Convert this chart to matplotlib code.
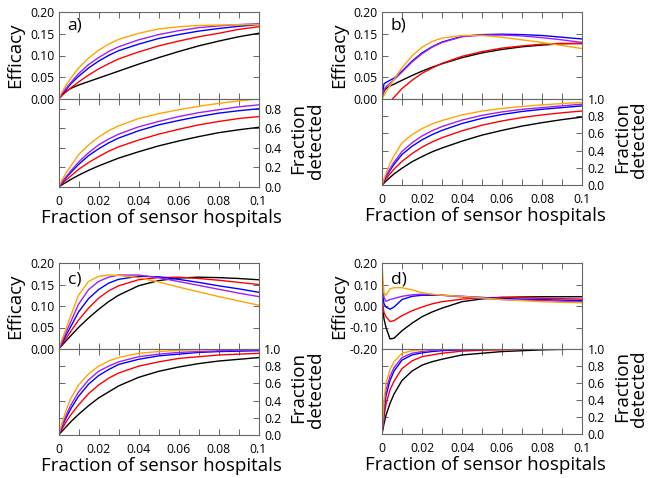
import matplotlib
matplotlib.use("Agg")
import matplotlib.pyplot as plt
import numpy as np

plt.rcParams["font.family"] = ["Open Sans", "DejaVu Sans"]

# ---------------- data ----------------
X = [0, 0.001, 0.002, 0.004, 0.006, 0.01, 0.015, 0.02, 0.025, 0.03,
     0.04, 0.05, 0.06, 0.07, 0.08, 0.09, 0.1]
x_ticks = [0, 0.01, 0.02, 0.03, 0.04, 0.05, 0.06, 0.07, 0.08, 0.09, 0.1]
x_tick_labels = ["0", "", "0.02", "", "0.04", "", "0.06", "", "0.08", "", "0.1"]

series_names = ["black", "red", "blue", "purple", "orange"]
series_colors = ["#000000", "#ff0000", "#0000ff", "#a020f0", "#ffa500"]

# panel a) efficacy
eff_a_black = [0, .006, .011, .018, .024, .032, .040, .048, .056, .064, .080, .095, .109, .122, .133, .143, .151]
eff_a_red = [0, .004, .009, .017, .025, .039, .055, .069, .081, .092, .108, .122, .133, .143, .151, .160, .166]
eff_a_blue = [0, .006, .012, .023, .034, .052, .071, .087, .100, .111, .126, .139, .148, .156, .162, .167, .171]
eff_a_purple = [0, .007, .014, .026, .037, .058, .079, .095, .109, .120, .136, .148, .157, .164, .168, .171, .173]
eff_a_orange = [0, .009, .018, .033, .047, .071, .094, .112, .126, .137, .151, .161, .166, .169, .170, .171, .171]
# panel a) fraction detected
det_a_black = [0, .013, .026, .05, .075, .12, .17, .215, .255, .295, .36, .42, .47, .515, .555, .585, .61]
det_a_red = [0, .02, .04, .075, .11, .18, .25, .31, .365, .41, .48, .54, .59, .635, .67, .70, .72]
det_a_blue = [0, .027, .052, .10, .145, .23, .32, .39, .45, .50, .575, .635, .68, .72, .755, .78, .80]
det_a_purple = [0, .03, .06, .11, .16, .255, .35, .43, .49, .54, .615, .67, .72, .76, .79, .82, .84]
det_a_orange = [0, .04, .08, .15, .21, .33, .43, .51, .575, .625, .70, .75, .79, .825, .855, .88, .90]

# panel b) efficacy
eff_b_black = [0, .018, .024, .030, .034, .043, .054, .064, .073, .081, .095, .106, .114, .120, .124, .127, .128]
eff_b_red = [-.025, -.02, -.015, -.006, .004, .024, .043, .059, .071, .082, .098, .109, .117, .122, .126, .128, .127]
eff_b_blue = [0, .035, .038, .043, .048, .064, .087, .106, .120, .131, .144, .148, .149, .148, .146, .142, .138]
eff_b_purple = [0, .020, .028, .036, .044, .062, .085, .104, .119, .130, .143, .147, .147, .145, .141, .136, .130]
eff_b_orange = [0, .008, .016, .031, .045, .072, .099, .119, .132, .140, .146, .146, .142, .136, .130, .123, .116]
# panel b) fraction detected
det_b_black = [0, .022, .045, .088, .128, .195, .27, .33, .385, .43, .51, .58, .635, .685, .725, .76, .79]
det_b_red = [0, .035, .07, .13, .185, .275, .365, .44, .50, .55, .63, .695, .745, .785, .815, .84, .86]
det_b_blue = [0, .048, .095, .17, .24, .355, .45, .525, .585, .635, .715, .775, .82, .855, .88, .90, .92]
det_b_purple = [0, .055, .105, .19, .265, .39, .49, .57, .63, .68, .755, .81, .85, .88, .90, .92, .94]
det_b_orange = [0, .07, .135, .25, .34, .49, .585, .655, .71, .75, .815, .86, .89, .913, .932, .947, .96]

# panel c) efficacy
eff_c_black = [0, .005, .010, .020, .030, .050, .072, .092, .110, .125, .147, .159, .165, .167, .166, .164, .161]
eff_c_red = [0, .006, .012, .026, .040, .067, .095, .118, .135, .147, .161, .166, .167, .164, .160, .155, .150]
eff_c_blue = [0, .008, .016, .034, .051, .086, .117, .138, .153, .162, .169, .168, .162, .155, .147, .140, .132]
eff_c_purple = [0, .010, .020, .041, .062, .104, .138, .157, .167, .172, .172, .166, .157, .148, .139, .130, .122]
eff_c_orange = [0, .012, .025, .050, .076, .125, .157, .169, .172, .171, .166, .156, .144, .133, .122, .112, .102]
# panel c) fraction detected
det_c_black = [0, .025, .05, .10, .15, .24, .34, .43, .50, .57, .67, .74, .79, .83, .86, .88, .90]
det_c_red = [0, .04, .08, .16, .23, .35, .48, .58, .66, .72, .80, .85, .89, .91, .93, .94, .95]
det_c_blue = [0, .05, .11, .21, .30, .45, .59, .69, .76, .82, .88, .92, .94, .96, .97, .975, .98]
det_c_purple = [0, .06, .12, .24, .34, .50, .64, .74, .80, .85, .91, .94, .96, .97, .98, .985, .99]
det_c_orange = [0, .08, .16, .30, .42, .58, .71, .80, .86, .90, .95, .97, .985, .99, .995, .998, 1.0]

# panel d) efficacy
eff_d_black = [0.02, -.06, -.10, -.153, -.150, -.115, -.080, -.050, -.028, -.010, .020, .033, .040, .042, .043, .043, .043]
eff_d_red = [0.03, -.03, -.05, -.072, -.068, -.045, -.022, -.005, .010, .020, .032, .038, .040, .039, .036, .034, .032]
eff_d_blue = [.08, .01, -.005, -.015, -.005, .030, .045, .050, .050, .050, .045, .040, .035, .032, .030, .027, .025]
eff_d_purple = [.12, .04, .022, .030, .035, .045, .052, .055, .053, .050, .042, .036, .030, .027, .025, .022, .020]
eff_d_orange = [.19, .06, .05, .080, .085, .085, .075, .062, .055, .050, .045, .038, .030, .025, .020, .017, .015]
# panel d) fraction detected
det_d_black = [0, .12, .22, .36, .47, .63, .74, .81, .85, .88, .93, .95, .97, .98, .99, .995, 1.0]
det_d_red = [0, .20, .35, .52, .62, .77, .86, .91, .93, .95, .975, .985, .99, .995, 1.0, 1.0, 1.0]
det_d_blue = [0, .28, .45, .63, .74, .87, .93, .955, .97, .98, .99, .995, 1.0, 1.0, 1.0, 1.0, 1.0]
det_d_purple = [0, .33, .52, .68, .78, .90, .95, .97, .985, .99, .995, 1.0, 1.0, 1.0, 1.0, 1.0, 1.0]
det_d_orange = [0, .40, .60, .76, .85, .95, .98, .99, .995, 1.0, 1.0, 1.0, 1.0, 1.0, 1.0, 1.0, 1.0]

eff_ticks_pos = [0.0, 0.05, 0.10, 0.15, 0.20]
eff_tick_labels = ["0.00", "0.05", "0.10", "0.15", "0.20"]
eff_ticks_d = [-0.20, -0.10, 0.0, 0.10, 0.20]
eff_tick_labels_d = ["-0.20", "-0.10", "0.00", "0.10", "0.20"]
det_ticks_a = [0.0, 0.2, 0.4, 0.6, 0.8]
det_tick_labels_a = ["0.0", "0.2", "0.4", "0.6", "0.8"]
det_ticks = [0.0, 0.2, 0.4, 0.6, 0.8, 1.0]
det_tick_labels = ["0.0", "0.2", "0.4", "0.6", "0.8", "1.0"]

# ---------------- figure ----------------
W, H = 649, 478
fig = plt.figure(figsize=(W / 100, H / 100), dpi=100)

SPINE = "#666666"
TICKFS = 8.8
LABELFS = 13.5


def style(ax):
    for s in ax.spines.values():
        s.set_color(SPINE)
        s.set_linewidth(0.8)
    ax.tick_params(direction="in", length=4, width=0.7, color=SPINE,
                   labelsize=TICKFS, top=True, right=True, bottom=True, left=True)


def panel(pos, effs, dets, eff_lim, eticks, elabels, det_lim, dticks, dlabels,
          letter, letter_y):
    left, right, top, mid, bottom = pos
    ax1 = fig.add_axes([left / W, 1 - mid / H, (right - left) / W, (mid - top) / H])
    ax2 = fig.add_axes([left / W, 1 - bottom / H, (right - left) / W, (bottom - mid) / H])
    for e, d, c in zip(effs, dets, series_colors):
        ax1.plot(X, e, color=c, lw=1.0)
        ax2.plot(X, d, color=c, lw=1.0)
    for ax in (ax1, ax2):
        style(ax)
        ax.set_xlim(0, 0.1)
        ax.set_xticks(x_ticks)
    ax1.tick_params(axis="x", labelbottom=False)
    ax1.set_ylim(*eff_lim)
    ax1.set_yticks(eticks)
    ax1.set_yticklabels(elabels)
    ax1.tick_params(labelleft=True, labelright=False, pad=3)
    ax2.set_xticks(x_ticks[::2])
    ax2.set_xticklabels(x_tick_labels[::2])
    ax2.set_xticks(x_ticks[1::2], minor=True)
    ax2.tick_params(axis="x", which="minor", direction="in", length=4, width=0.7,
                    color=SPINE, top=True, bottom=True)
    ax2.set_ylim(*det_lim)
    ax2.set_yticks(dticks)
    ax2.set_yticklabels(dlabels)
    ax2.tick_params(axis="y", labelleft=False, labelright=True, pad=4)
    ax2.tick_params(axis="x", pad=6)
    ax1.text((75 - left if left < 100 else 75 + 324 - left + 0) / (right - left) if False else 16.5 / (right - left),
             letter_y, letter, transform=ax1.transAxes, fontsize=12.5,
             ha="center", va="center")
    # labels
    fig.text((left - 43) / W, 1 - (top + mid) / 2 / H, "Efficacy", rotation=90,
             fontsize=LABELFS, ha="center", va="center")
    fig.text((right + 40) / W, 1 - (mid + bottom) / 2 / H + 0.01, "Fraction",
             rotation=90, fontsize=LABELFS, ha="center", va="center")
    fig.text((right + 57) / W, 1 - (mid + bottom) / 2 / H + 0.005, "detected",
             rotation=90, fontsize=LABELFS, ha="center", va="center")
    fig.text((left + right) / 2 / W + 0.005, 1 - (bottom + 31) / H,
             "Fraction of sensor hospitals", fontsize=LABELFS, ha="center", va="center")


panel((58.5, 258.5, 12, 99, 187),
      [eff_a_black, eff_a_red, eff_a_blue, eff_a_purple, eff_a_orange],
      [det_a_black, det_a_red, det_a_blue, det_a_purple, det_a_orange],
      (0, 0.2), eff_ticks_pos, eff_tick_labels, (0, 0.9), det_ticks_a, det_tick_labels_a,
      "a)", 0.85)
panel((382, 582, 12, 99, 185),
      [eff_b_black, eff_b_red, eff_b_blue, eff_b_purple, eff_b_orange],
      [det_b_black, det_b_red, det_b_blue, det_b_purple, det_b_orange],
      (0, 0.2), eff_ticks_pos, eff_tick_labels, (0, 1.0), det_ticks, det_tick_labels,
      "b)", 0.85)
panel((58.5, 258.5, 263, 349, 435),
      [eff_c_black, eff_c_red, eff_c_blue, eff_c_purple, eff_c_orange],
      [det_c_black, det_c_red, det_c_blue, det_c_purple, det_c_orange],
      (0, 0.2), eff_ticks_pos, eff_tick_labels, (0, 1.0), det_ticks, det_tick_labels,
      "c)", 0.81)
panel((382, 582, 263, 349, 434),
      [eff_d_black, eff_d_red, eff_d_blue, eff_d_purple, eff_d_orange],
      [det_d_black, det_d_red, det_d_blue, det_d_purple, det_d_orange],
      (-0.2, 0.2), eff_ticks_d, eff_tick_labels_d, (0, 1.0), det_ticks, det_tick_labels,
      "d)", 0.81)

fig.savefig("out.png", dpi=100)
